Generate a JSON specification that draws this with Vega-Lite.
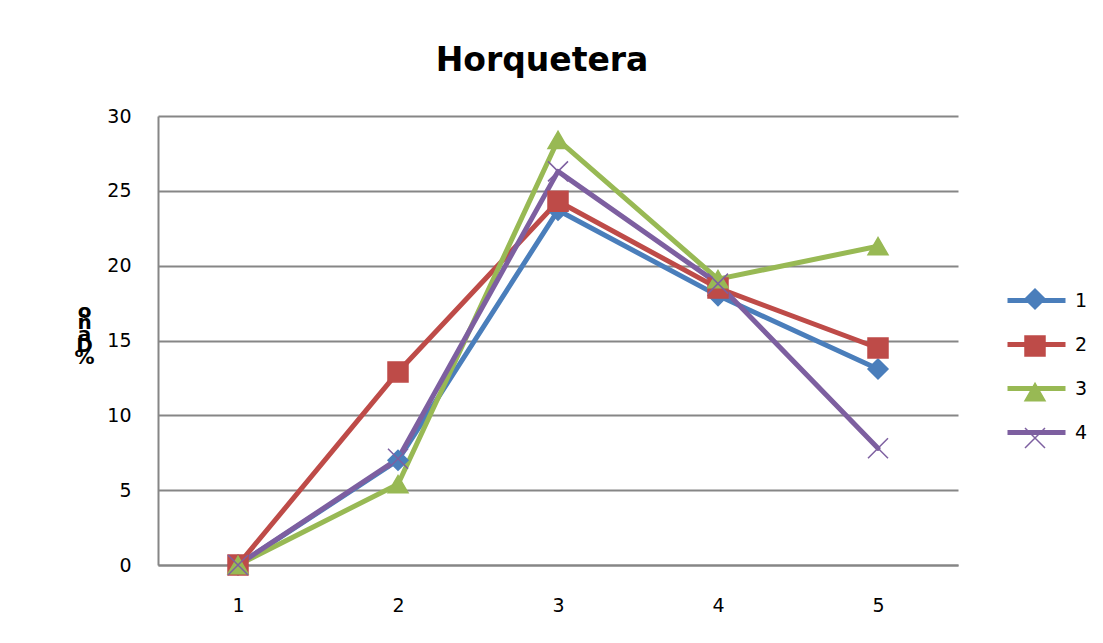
{
  "$schema": "https://vega.github.io/schema/vega-lite/v6.json",
  "width": 800,
  "height": 449,
  "autosize": {"type": "none"},
  "padding": {"left": 158, "top": 116, "right": 145, "bottom": 78},
  "background": "white",
  "config": {
    "font": "DejaVu Sans",
    "view": {"stroke": null},
    "axis": {"labelFont": "DejaVu Sans", "labelFontSize": 19, "labelColor": "#000000", "ticks": false, "domainColor": "#868686", "domainWidth": 2, "gridColor": "#868686", "gridWidth": 2, "gridOpacity": 1},
    "legend": {"labelFont": "DejaVu Sans"}
  },
  "title": {"text": "Horquetera", "fontSize": 33, "fontWeight": "bold", "font": "DejaVu Sans", "color": "#000000", "anchor": "middle", "dx": -16, "offset": 3, "baseline": "alphabetic"},
  "data": {"values": [
    {"x": "1", "series": "1", "value": 0},
    {"x": "2", "series": "1", "value": 7.0},
    {"x": "3", "series": "1", "value": 23.7},
    {"x": "4", "series": "1", "value": 18.0},
    {"x": "5", "series": "1", "value": 13.1},
    {"x": "1", "series": "2", "value": 0},
    {"x": "2", "series": "2", "value": 12.9},
    {"x": "3", "series": "2", "value": 24.3},
    {"x": "4", "series": "2", "value": 18.5},
    {"x": "5", "series": "2", "value": 14.5},
    {"x": "1", "series": "3", "value": 0},
    {"x": "2", "series": "3", "value": 5.4},
    {"x": "3", "series": "3", "value": 28.4},
    {"x": "4", "series": "3", "value": 19.1},
    {"x": "5", "series": "3", "value": 21.3},
    {"x": "1", "series": "4", "value": 0},
    {"x": "2", "series": "4", "value": 7.1},
    {"x": "3", "series": "4", "value": 26.3},
    {"x": "4", "series": "4", "value": 18.8},
    {"x": "5", "series": "4", "value": 7.8}
  ]},
  "encoding": {
    "x": {"field": "x", "type": "ordinal", "scale": {"type": "point", "padding": 0.5}, "axis": {"title": null, "labelAngle": 0, "labelPadding": 31, "grid": false}},
    "y": {"field": "value", "type": "quantitative", "scale": {"domain": [0, 30], "nice": false}, "axis": {"values": [0, 5, 10, 15, 20, 25, 30], "labelPadding": 27, "title": ["o", "ñ", "a", "D", "%"], "titleAngle": 0, "titleFontSize": 20, "titleFontWeight": "bold", "titleLineHeight": 11.5, "titleAlign": "center", "titleBaseline": "alphabetic", "titleX": -74, "titleY": 201, "titleColor": "#000000"}}
  },
  "layer": [
    {
      "mark": {"type": "line", "strokeWidth": 5, "strokeJoin": "round", "strokeCap": "round"},
      "encoding": {
        "color": {"field": "series", "type": "nominal", "scale": {"range": ["#4a7ebb", "#be4b48", "#98b954", "#7d5fa0"]}, "legend": {"title": null, "orient": "none", "legendX": 866, "legendY": 172, "padding": 0, "symbolType": "M-2.9,0H2.9", "symbolSize": 400, "symbolStrokeWidth": 5, "labelFontSize": 19, "labelColor": "#000000", "labelOffset": 26, "rowPadding": 21}}
      }
    },
    {
      "mark": {"type": "point", "filled": true, "size": 400, "strokeWidth": 1.5, "opacity": 1},
      "encoding": {
        "fill": {"field": "series", "type": "nominal", "scale": {"domain": ["1", "2", "3", "4"], "range": ["#4a7ebb", "#be4b48", "#98b954", "transparent"]}, "legend": {"title": null, "orient": "none", "legendX": 866, "legendY": 172, "padding": 0, "symbolSize": 400, "symbolStrokeWidth": 1.5, "labelFontSize": 1, "labelOpacity": 0, "labelOffset": 26, "rowPadding": 21}},
        "stroke": {"field": "series", "type": "nominal", "scale": {"domain": ["1", "2", "3", "4"], "range": ["#4a7ebb", "#be4b48", "#98b954", "#7d5fa0"]}, "legend": {"title": null, "orient": "none", "legendX": 866, "legendY": 172, "padding": 0, "symbolSize": 400, "symbolStrokeWidth": 1.5, "labelFontSize": 1, "labelOpacity": 0, "labelOffset": 26, "rowPadding": 21}},
        "shape": {"field": "series", "type": "nominal", "scale": {"domain": ["1", "2", "3", "4"], "range": ["diamond", "square", "triangle-up", "M-1,-1L1,1M-1,1L1,-1"]}, "legend": {"title": null, "orient": "none", "legendX": 866, "legendY": 172, "padding": 0, "symbolSize": 400, "symbolStrokeWidth": 1.5, "labelFontSize": 1, "labelOpacity": 0, "labelOffset": 26, "rowPadding": 21}}
      }
    }
  ]
}
